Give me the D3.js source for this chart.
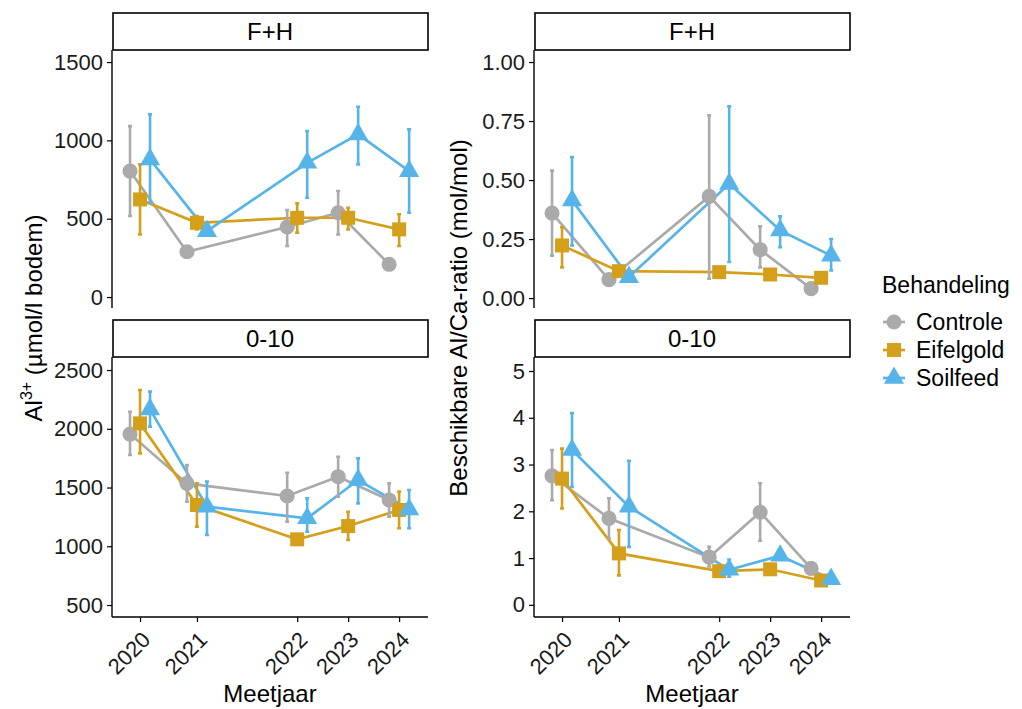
<!DOCTYPE html>
<html>
<head>
<meta charset="utf-8">
<script src="https://cdn.jsdelivr.net/npm/d3@7"></script>
<style>
  body { margin: 0; background: #fff; }
  svg { font-family: "Liberation Sans", Arial, sans-serif; }
</style>
</head>
<body>
<svg id="chart" width="1022" height="709"></svg>
<script>
// meetjaren en meetmoment (maanden na eerste meting)
const meetjaren = [2020, 2021, 2022, 2023, 2024];
const meetmoment = [0, 13.4, 37, 49, 61];
const behandelingen = ['Controle', 'Eifelgold', 'Soilfeed'];
const kleuren = ['#aaaaaa', '#d4a01c', '#56b4e9'];

// [gemiddelde, onder, boven] per meetjaar
const alFH_controle  = [[804, 517, 1091], [289, 270, 308], [447, 326, 555], [538, 400, 677], [209, 192, 226]];
const alFH_eifelgold = [[623, 400, 847], [474, 432, 517], [506, 411, 598], [506, 432, 570], [432, 326, 528]];
const alFH_soilfeed  = [[879, 600, 1166], [421, 392, 450], [857, 634, 1060], [1038, 847, 1215], [804, 538, 1070]];

const al010_controle  = [[1955, 1777, 2145], [1535, 1379, 1691], [1428, 1209, 1626], [1592, 1422, 1762], [1394, 1252, 1535]];
const al010_eifelgold = [[2046, 1791, 2330], [1351, 1167, 1535], [1059, 1030, 1090], [1172, 1053, 1294], [1309, 1153, 1465]];
const al010_soilfeed  = [[2165, 2018, 2316], [1337, 1096, 1550], [1238, 1124, 1408], [1564, 1365, 1748], [1314, 1153, 1479]];

const ratioFH_controle  = [[0.36, 0.18, 0.54], [0.078, 0.07, 0.088], [0.431, 0.082, 0.774], [0.205, 0.13, 0.304], [0.04, 0.034, 0.048]];
const ratioFH_eifelgold = [[0.223, 0.13, 0.30], [0.114, 0.104, 0.124], [0.11, 0.09, 0.13], [0.10, 0.09, 0.11], [0.086, 0.076, 0.096]];
const ratioFH_soilfeed  = [[0.414, 0.223, 0.597], [0.089, 0.08, 0.1], [0.484, 0.153, 0.812], [0.287, 0.216, 0.346], [0.18, 0.117, 0.25]];

const ratio010_controle  = [[2.76, 2.24, 3.31], [1.85, 1.42, 2.28], [1.02, 0.82, 1.24], [1.98, 1.37, 2.6], [0.78, 0.7, 0.86]];
const ratio010_eifelgold = [[2.7, 2.06, 3.34], [1.10, 0.63, 1.6], [0.72, 0.65, 0.8], [0.76, 0.7, 0.83], [0.52, 0.46, 0.58]];
const ratio010_soilfeed  = [[3.31, 2.52, 4.1], [2.10, 1.24, 3.08], [0.75, 0.6, 0.97], [1.05, 0.97, 1.13], [0.55, 0.5, 0.6]];

const alTicksFH = [0, 500, 1000, 1500];
const alTicks010 = [500, 1000, 1500, 2000, 2500];
const ratioTicksFH = [0, 0.25, 0.5, 0.75, 1];
const ratioTicks010 = [0, 1, 2, 3, 4, 5];

const panels = [
  {strip: 'F+H', x0: 112, x1: 428, y0: 50, y1: 308, dom: [-70, 1577], ticks: alTicksFH, fmt: d3.format('d'),
   series: [alFH_controle, alFH_eifelgold, alFH_soilfeed], xaxis: false},
  {strip: '0-10', x0: 112, x1: 428, y0: 357, y1: 617, dom: [398, 2611], ticks: alTicks010, fmt: d3.format('d'),
   series: [al010_controle, al010_eifelgold, al010_soilfeed], xaxis: true},
  {strip: 'F+H', x0: 534, x1: 850, y0: 50, y1: 308, dom: [-0.042, 1.051], ticks: ratioTicksFH, fmt: d3.format('.2f'),
   series: [ratioFH_controle, ratioFH_eifelgold, ratioFH_soilfeed], xaxis: false},
  {strip: '0-10', x0: 534, x1: 850, y0: 357, y1: 617, dom: [-0.26, 5.3], ticks: ratioTicks010, fmt: d3.format('d'),
   series: [ratio010_controle, ratio010_eifelgold, ratio010_soilfeed], xaxis: true}
];

const svg = d3.select('#chart');
const dodge = [-10, 0, 10];
const symbols = [d3.symbolCircle, d3.symbolSquare, d3.symbolTriangle];
const symSize = [180, 196, 175];

panels.forEach(p => {
  let x = d3.scaleLinear().domain([-6.6, 67.8]).range([p.x0, p.x1]);
  let y = d3.scaleLinear().domain(p.dom).range([p.y1, p.y0]);
  let g = svg.append('g');

  // strip
  g.append('rect')
      .attr('x', p.x0 + 1).attr('y', p.y0 - 37)
      .attr('width', p.x1 - p.x0 - 1).attr('height', 37)
      .attr('fill', '#fff').attr('stroke', '#000').attr('stroke-width', 1.6);
  g.append('text')
      .attr('x', (p.x0 + p.x1) / 2).attr('y', p.y0 - 18.5).attr('dy', '0.36em')
      .attr('text-anchor', 'middle').attr('font-size', 24).text(p.strip);

  // y axis
  let yAxis = g.append('g').attr('transform', `translate(${p.x0},0)`)
      .call(d3.axisLeft(y).tickValues(p.ticks).tickFormat(p.fmt).tickSize(5).tickPadding(4));
  yAxis.select('.domain').attr('d', `M0,${p.y0}V${p.y1}`).attr('stroke-width', 1.4);
  yAxis.selectAll('.tick line').attr('stroke-width', 1.2);
  yAxis.selectAll('.tick text').attr('font-size', 22).attr('fill', '#1a1a1a');

  if(p.xaxis){
    let xAxis = g.append('g').attr('transform', `translate(0,${p.y1})`)
        .call(d3.axisBottom(x).tickValues(meetmoment).tickFormat((d, i) => meetjaren[i]).tickSize(5));
    xAxis.select('.domain').attr('d', `M${p.x0},0H${p.x1}`).attr('stroke-width', 1.4);
    xAxis.selectAll('.tick line').attr('stroke-width', 1.2);
    xAxis.selectAll('.tick text')
        .attr('font-size', 22).attr('fill', '#1a1a1a')
        .attr('text-anchor', 'end')
        .attr('x', 0).attr('y', 13).attr('dy', '0.72em')
        .attr('transform', 'rotate(-45 0 13)');
    g.append('text')
        .attr('x', (p.x0 + p.x1) / 2).attr('y', 702)
        .attr('text-anchor', 'middle').attr('font-size', 24).text('Meetjaar');
  }

  let line = d3.line().x(d => d[0]).y(d => d[1]);

  // lines
  p.series.forEach((s, k) => {
    g.append('path')
        .attr('d', line(s.map((v, i) => [x(meetmoment[i]) + dodge[k], y(v[0])])))
        .attr('fill', 'none').attr('stroke', kleuren[k]).attr('stroke-width', 2.7);
  });
  // error bars
  p.series.forEach((s, k) => {
    s.forEach((v, i) => {
      let cx = x(meetmoment[i]) + dodge[k];
      g.append('path')
          .attr('d', `M${cx},${y(v[1])}V${y(v[2])}M${cx - 2},${y(v[1])}H${cx + 2}M${cx - 2},${y(v[2])}H${cx + 2}`)
          .attr('fill', 'none').attr('stroke', kleuren[k]).attr('stroke-width', 2.6);
    });
  });
  // points
  p.series.forEach((s, k) => {
    g.selectAll(null).data(s).enter().append('path')
        .attr('transform', (v, i) => `translate(${x(meetmoment[i]) + dodge[k]},${y(v[0])})`)
        .attr('d', d3.symbol().type(symbols[k]).size(symSize[k]))
        .attr('fill', kleuren[k]);
  });
});

// y axis titles
let t1 = svg.append('text')
    .attr('transform', 'translate(42,318) rotate(-90)')
    .attr('text-anchor', 'middle').attr('font-size', 24);
t1.append('tspan').text('Al');
t1.append('tspan').attr('font-size', 16).attr('dy', -10).text('3+');
t1.append('tspan').attr('dy', 10).text(' (µmol/l bodem)');

svg.append('text')
    .attr('transform', 'translate(467,318) rotate(-90)')
    .attr('text-anchor', 'middle').attr('font-size', 24)
    .text('Beschikbare Al/Ca-ratio (mol/mol)');

// legend
let legend = svg.append('g').attr('transform', 'translate(882,0)');
legend.append('text').attr('x', 0).attr('y', 293).attr('font-size', 23).text('Behandeling');
behandelingen.forEach((b, k) => {
  let cy = 322 + k * 28;
  legend.append('line')
      .attr('x1', 1).attr('x2', 23).attr('y1', cy).attr('y2', cy)
      .attr('stroke', kleuren[k]).attr('stroke-width', 2.7);
  legend.append('path')
      .attr('transform', `translate(12,${cy})`)
      .attr('d', d3.symbol().type(symbols[k]).size(symSize[k]))
      .attr('fill', kleuren[k]);
  legend.append('text')
      .attr('x', 34).attr('y', cy).attr('dy', '0.36em')
      .attr('font-size', 23).text(b);
});
</script>
</body>
</html>
